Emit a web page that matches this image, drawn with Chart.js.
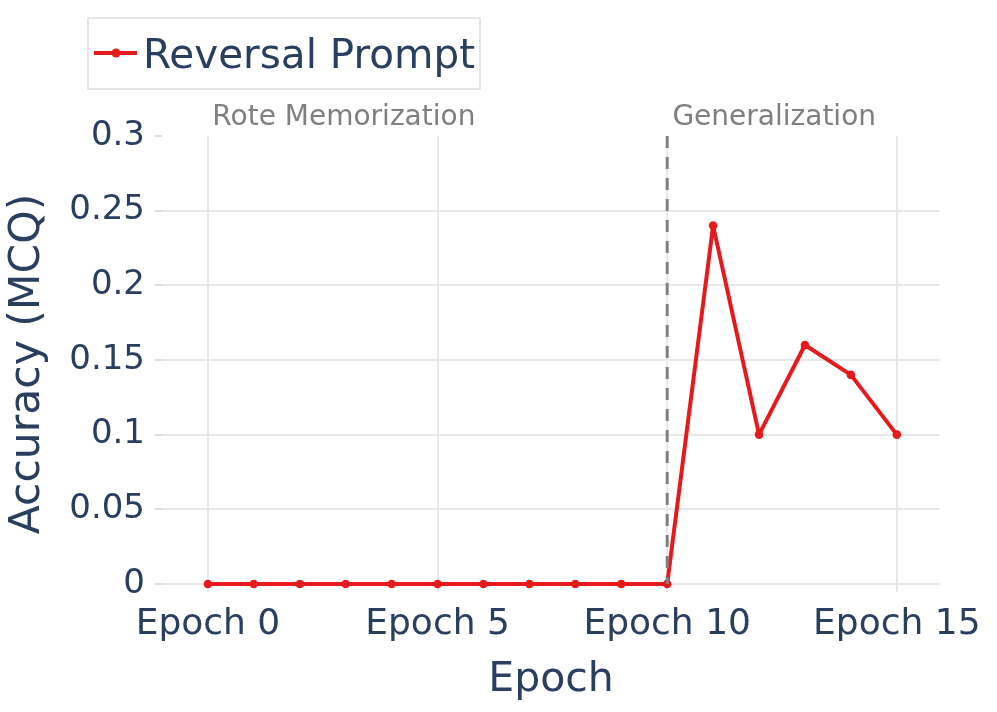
<!DOCTYPE html>
<html>
<head>
<meta charset="utf-8">
<script src="https://cdn.jsdelivr.net/npm/chart.js@4.4.1/dist/chart.umd.min.js"></script>
<style>
  html, body { margin: 0; padding: 0; background: #fff; }
  #wrap { width: 997px; height: 712px; }
</style>
</head>
<body>
<div id="wrap"><canvas id="chart" width="997" height="712"></canvas></div>
<script>
// data
const seriesName = 'Reversal Prompt';
const epochs = [0, 1, 2, 3, 4, 5, 6, 7, 8, 9, 10, 11, 12, 13, 14, 15];
const accuracy = [0, 0, 0, 0, 0, 0, 0, 0, 0, 0, 0, 0.24, 0.10, 0.16, 0.14, 0.10];
const xTicks = [0, 5, 10, 15];
const yTicks = [0, 0.05, 0.1, 0.15, 0.2, 0.25, 0.3];
const yTickLabels = ['0', '0.05', '0.1', '0.15', '0.2', '0.25', '0.3'];
const phaseLabels = ['Rote Memorization', 'Generalization'];
const phaseLabelX = [2.96, 12.33];
const phaseBoundary = 10;

const FONT = '"DejaVu Sans", Verdana, sans-serif';
const TEXT = '#2a3f5f';
const RED = '#e41a1c';
const GRID = '#e8e8e8';

const overlay = {
  id: 'overlay',
  afterDatasetsDraw(chart) {
    const { ctx, chartArea, scales: { x, y } } = chart;
    ctx.save();
    // phase boundary
    const bx = x.getPixelForValue(phaseBoundary);
    ctx.strokeStyle = '#808080';
    ctx.lineWidth = 3;
    ctx.setLineDash([12, 9]);
    ctx.beginPath();
    ctx.moveTo(bx, y.getPixelForValue(yTicks[yTicks.length - 1]));
    ctx.lineTo(bx, y.getPixelForValue(0));
    ctx.stroke();
    ctx.setLineDash([]);

    // phase labels
    ctx.fillStyle = '#7f7f7f';
    ctx.font = '28px ' + FONT;
    ctx.textAlign = 'center';
    ctx.textBaseline = 'alphabetic';
    phaseLabels.forEach((t, i) => {
      ctx.fillText(t, x.getPixelForValue(phaseLabelX[i]), chartArea.top - 11);
    });

    // legend box
    ctx.strokeStyle = '#e5e5e5';
    ctx.lineWidth = 2;
    ctx.strokeRect(88, 18, 392, 71);
    ctx.strokeStyle = RED;
    ctx.lineWidth = 4;
    ctx.beginPath();
    ctx.moveTo(94, 53);
    ctx.lineTo(137, 53);
    ctx.stroke();
    ctx.fillStyle = RED;
    ctx.beginPath();
    ctx.arc(116, 53, 4.5, 0, Math.PI * 2);
    ctx.fill();
    ctx.fillStyle = TEXT;
    ctx.font = '40.5px ' + FONT;
    ctx.textAlign = 'left';
    ctx.fillText(chart.data.datasets[0].label, 143, 68);
    ctx.restore();
  }
};

new Chart(document.getElementById('chart'), {
  type: 'line',
  data: {
    datasets: [{
      label: seriesName,
      data: epochs.map((e, i) => ({ x: e, y: accuracy[i] })),
      borderColor: RED,
      backgroundColor: RED,
      borderWidth: 4,
      borderJoinStyle: 'round',
      pointRadius: 4.3,
      pointBorderWidth: 0,
      pointHoverRadius: 4.3,
      tension: 0
    }]
  },
  options: {
    responsive: false,
    animation: false,
    events: [],
    layout: { padding: { top: 136, right: 57, left: 0, bottom: 0 } },
    plugins: {
      legend: { display: false },
      tooltip: { enabled: false }
    },
    scales: {
      x: {
        type: 'linear',
        min: -1,
        max: 15.94,
        afterBuildTicks: s => { s.ticks = xTicks.map(v => ({ value: v })); },
        afterFit: s => { s.height = 120; },
        border: { display: false },
        grid: { color: GRID, lineWidth: 2, drawTicks: false },
        ticks: {
          padding: 11,
          maxRotation: 0,
          autoSkip: false,
          color: TEXT,
          font: { family: FONT, size: 36 },
          callback: v => 'Epoch ' + v
        },
        title: {
          display: true,
          text: 'Epoch',
          color: TEXT,
          font: { family: FONT, size: 41 },
          padding: { top: 0, bottom: 7.5 }
        }
      },
      y: {
        min: -0.0054,
        max: 0.3,
        afterBuildTicks: s => { s.ticks = yTicks.map(v => ({ value: v })); },
        afterFit: s => { s.width = 162; },
        border: { display: false },
        grid: {
          color: c => (c.tick && c.tick.value === 0.3 ? 'rgba(0,0,0,0)' : GRID),
          tickColor: '#dddddd',
          lineWidth: 2,
          tickLength: 7
        },
        ticks: {
          padding: 10,
          color: TEXT,
          font: { family: FONT, size: 34 },
          callback: (v, i) => yTickLabels[i]
        },
        title: {
          display: true,
          text: 'Accuracy (MCQ)',
          color: TEXT,
          font: { family: FONT, size: 42.5 },
          padding: { top: 2, bottom: 0 }
        }
      }
    }
  },
  plugins: [overlay]
});
</script>
</body>
</html>
